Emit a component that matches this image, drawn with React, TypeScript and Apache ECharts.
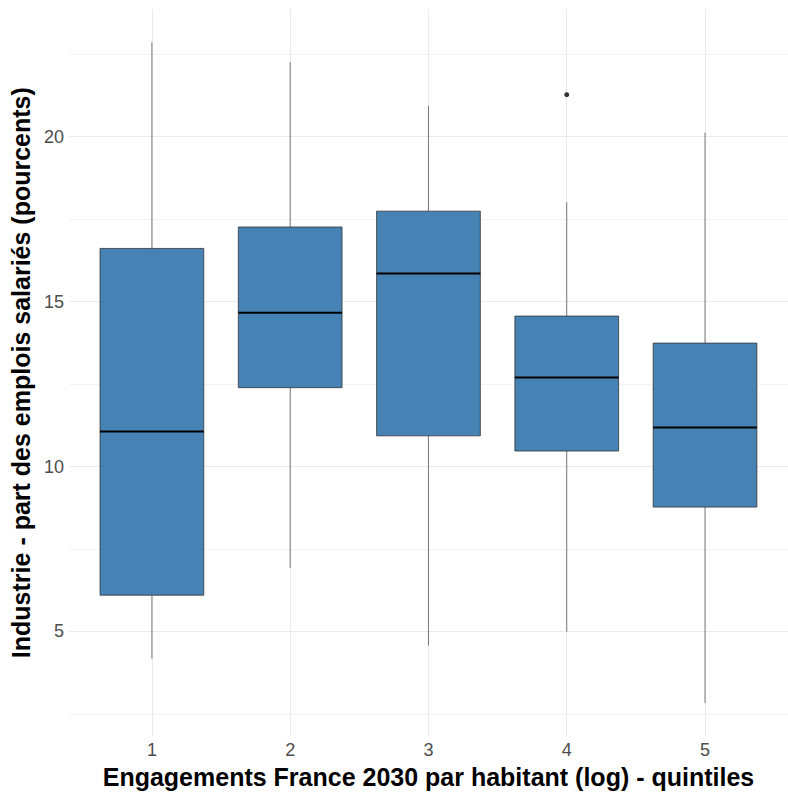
import React, { useEffect, useRef } from "react";
import * as echarts from "echarts";

const categories = [1, 2, 3, 4, 5];
const whiskerLow = [4.18, 6.93, 4.57, 4.99, 2.83];
const q1 = [6.1, 12.39, 10.93, 10.47, 8.77];
const medians = [11.06, 14.66, 15.85, 12.7, 11.18];
const q3 = [16.61, 17.26, 17.74, 14.56, 13.74];
const whiskerHigh = [22.86, 22.26, 20.94, 18.01, 20.12];
const outliers: [number, number][] = [[4, 21.27]];
const yTicks = [5, 10, 15, 20];
const yMinorTicks = [2.5, 7.5, 12.5, 17.5, 22.5];

const xTitle = "Engagements France 2030 par habitant (log) - quintiles";
const yTitle = "Industrie - part des emplois salariés (pourcents)";

const FONT = "'Liberation Sans', Arial, Helvetica, sans-serif";

export default function App() {
  const ref = useRef<HTMLDivElement>(null);

  useEffect(() => {
    if (!ref.current) return;
    const chart = echarts.init(ref.current, null, { renderer: "svg" });

    const lo = Math.min(...whiskerLow);
    const hi = Math.max(...whiskerHigh, ...outliers.map((o) => o[1]));
    const pad = (hi - lo) * 0.05;
    const yMin = lo - pad;
    const yMax = hi + pad;

    const boxData = categories.map((c, i) => [
      c,
      whiskerLow[i],
      q1[i],
      medians[i],
      q3[i],
      whiskerHigh[i],
    ]);

    const option: any = {
      animation: false,
      backgroundColor: "#ffffff",
      textStyle: { fontFamily: FONT },
      grid: { left: 66.55, width: 731.9, top: 9.2, bottom: 48.1, containLabel: false },
      xAxis: {
        type: "value",
        min: 0.4,
        max: 5.6,
        axisLine: { show: false },
        axisTick: { show: false },
        splitLine: { show: false },
        axisLabel: {
          customValues: categories,
          color: "#4d4d4d",
          fontSize: 18,
          margin: 5,
          fontFamily: FONT,
        },
        name: xTitle,
        nameLocation: "middle",
        nameGap: 19,
        nameTextStyle: {
          fontSize: 25,
          fontWeight: "bold",
          color: "#000",
          fontFamily: FONT,
          verticalAlign: "top",
        },
      },
      yAxis: {
        type: "value",
        min: yMin,
        max: yMax,
        axisLine: { show: false },
        axisTick: { show: false },
        splitLine: { show: false },
        axisLabel: {
          customValues: yTicks,
          color: "#4d4d4d",
          fontSize: 18,
          margin: 5,
          fontFamily: FONT,
        },
        name: yTitle,
        nameLocation: "middle",
        nameRotate: 90,
        nameGap: 25,
        nameTextStyle: {
          fontSize: 25,
          fontWeight: "bold",
          color: "#000",
          fontFamily: FONT,
        },
      },
      series: [
        {
          type: "line",
          data: [],
          silent: true,
          markLine: {
            silent: true,
            z: 0,
            symbol: ["none", "none"],
            label: { show: false },
            emphasis: { disabled: true },
            data: [
              ...yMinorTicks.map((v) => ({
                yAxis: v,
                lineStyle: { color: "#f4f4f4", width: 1, type: "solid" },
              })),
              ...yTicks.map((v) => ({
                yAxis: v,
                lineStyle: { color: "#ebebeb", width: 1.1, type: "solid" },
              })),
              ...categories.map((c) => ({
                xAxis: c,
                lineStyle: { color: "#ebebeb", width: 1.1, type: "solid" },
              })),
            ],
          },
        },
        {
          type: "custom",
          z: 2,
          silent: true,
          data: boxData,
          encode: { x: 0, y: [1, 2, 3, 4, 5] },
          renderItem: (params: any, api: any) => {
            const x = api.value(0);
            const pLo = api.coord([x, api.value(1)]);
            const pQ1 = api.coord([x, api.value(2)]);
            const pMd = api.coord([x, api.value(3)]);
            const pQ3 = api.coord([x, api.value(4)]);
            const pHi = api.coord([x, api.value(5)]);
            const w = api.size([0.75, 0])[0];
            const cx = pLo[0];
            const whisk = { stroke: "#5a5a5a", lineWidth: 0.8 };
            return {
              type: "group",
              children: [
                {
                  type: "line",
                  shape: { x1: cx, y1: pHi[1], x2: cx, y2: pQ3[1] },
                  style: whisk,
                },
                {
                  type: "line",
                  shape: { x1: cx, y1: pQ1[1], x2: cx, y2: pLo[1] },
                  style: whisk,
                },
                {
                  type: "rect",
                  shape: {
                    x: cx - w / 2,
                    y: pQ3[1],
                    width: w,
                    height: pQ1[1] - pQ3[1],
                  },
                  style: { fill: "#4682B4", stroke: "#333333", lineWidth: 0.8 },
                },
                {
                  type: "line",
                  shape: { x1: cx - w / 2, y1: pMd[1], x2: cx + w / 2, y2: pMd[1] },
                  style: { stroke: "#000000", lineWidth: 2 },
                },
              ],
            };
          },
        },
        {
          type: "scatter",
          z: 3,
          silent: true,
          data: outliers,
          symbol: "circle",
          symbolSize: 5,
          itemStyle: { color: "#000000" },
        },
      ],
    };

    chart.setOption(option);
    return () => chart.dispose();
  }, []);

  return (
    <div
      ref={ref}
      style={{ position: "fixed", left: 0, top: 0, width: 788, height: 794, background: "#fff" }}
    />
  );
}
